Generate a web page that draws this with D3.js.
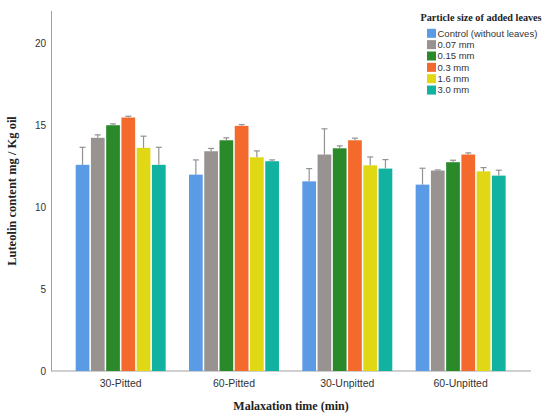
<!DOCTYPE html>
<html>
<head>
<meta charset="utf-8">
<script src="https://cdn.jsdelivr.net/npm/d3@7.9.0/dist/d3.min.js"></script>
<style>
  body { margin: 0; background: #fff; }
  svg { display: block; }
</style>
</head>
<body>
<svg id="chart" width="542" height="414"></svg>
<script>
// categories on the x axis
const groups = ["30-Pitted", "60-Pitted", "30-Unpitted", "60-Unpitted"];
// legend series
const series = ["Control (without leaves)", "0.07 mm", "0.15 mm", "0.3 mm", "1.6 mm", "3.0 mm"];
const colors = ["#5b9be6", "#989391", "#2a8a2a", "#f46a2c", "#e0d814", "#12b2a0"];
// mean values, one array per group (same order as series)
const means = [
    [12.6, 14.25, 15.02, 15.49, 13.64, 12.6],
    [12.0, 13.43, 14.1, 14.98, 13.06, 12.82],
    [11.59, 13.23, 13.61, 14.1, 12.57, 12.37],
    [11.39, 12.25, 12.76, 13.23, 12.2, 11.94]
];
// top of the error bar
const upper = [
    [13.67, 14.43, 15.1, 15.57, 14.35, 13.67],
    [12.9, 13.6, 14.25, 15.06, 13.45, 12.9],
    [12.37, 14.8, 13.76, 14.23, 13.08, 12.92],
    [12.39, 12.29, 12.88, 13.33, 12.43, 12.27]
];
const yTicks = [0, 5, 10, 15, 20];

const svg = d3.select("#chart");
const sansFont = "'Liberation Sans', Arial, sans-serif";
const serifFont = "'Liberation Serif', 'Times New Roman', serif";

const x0 = d3.scaleBand().domain(groups).range([64, 517.3]).paddingInner(0.206).paddingOuter(0.103);
const x1 = d3.scaleBand().domain(series).range([0, x0.bandwidth()]).paddingInner(0.1);
const y = d3.scaleLinear().domain([0, 22]).range([371, 11]);

// axis lines
svg.append("line")
    .attr("x1", 51.5).attr("x2", 51.5).attr("y1", y(22)).attr("y2", y(0))
    .attr("stroke", "#a0a0a0").attr("stroke-width", 1);
svg.append("line")
    .attr("x1", 51).attr("x2", 531).attr("y1", y(0)).attr("y2", y(0))
    .attr("stroke", "#a0a0a0").attr("stroke-width", 1);

// y tick labels
svg.append("g").selectAll("text")
    .data(yTicks)
    .join("text")
    .attr("x", 46)
    .attr("y", d => y(d))
    .attr("dy", "0.35em")
    .attr("text-anchor", "end")
    .attr("font-family", sansFont)
    .attr("font-size", 10)
    .attr("fill", "#333")
    .text(d => d);

// x tick labels
svg.append("g").selectAll("text")
    .data(groups)
    .join("text")
    .attr("x", d => x0(d) + x0.bandwidth() / 2)
    .attr("y", 387)
    .attr("text-anchor", "middle")
    .attr("font-family", sansFont)
    .attr("font-size", 10.5)
    .attr("fill", "#333")
    .text(d => d);

// bars
const groupG = svg.append("g").selectAll("g")
    .data(groups)
    .join("g")
    .attr("transform", d => `translate(${x0(d)},0)`);

groupG.each(function (g, gi) {
    const rows = series.map((s, si) => ({ s, si, v: means[gi][si], hi: upper[gi][si] }));
    const sel = d3.select(this);
    sel.selectAll("rect")
        .data(rows)
        .join("rect")
        .attr("x", d => x1(d.s))
        .attr("y", d => y(d.v))
        .attr("width", x1.bandwidth())
        .attr("height", d => y(0) - y(d.v))
        .attr("fill", d => colors[d.si]);

    // error bars (upper half only, rest hidden by bar)
    const eb = sel.selectAll("g.err")
        .data(rows)
        .join("g")
        .attr("class", "err");
    eb.append("line")
        .attr("x1", d => x1(d.s) + x1.bandwidth() / 2)
        .attr("x2", d => x1(d.s) + x1.bandwidth() / 2)
        .attr("y1", d => y(d.v))
        .attr("y2", d => y(d.hi))
        .attr("stroke", "#929292").attr("stroke-width", 1.2);
    eb.append("line")
        .attr("x1", d => x1(d.s) + x1.bandwidth() / 2 - 3)
        .attr("x2", d => x1(d.s) + x1.bandwidth() / 2 + 3)
        .attr("y1", d => y(d.hi))
        .attr("y2", d => y(d.hi))
        .attr("stroke", "#929292").attr("stroke-width", 1.2);
});

// axis titles
svg.append("text")
    .attr("transform", `translate(16,${y(11)}) rotate(-90)`)
    .attr("text-anchor", "middle")
    .attr("font-family", serifFont)
    .attr("font-weight", "bold")
    .attr("font-size", 12.5)
    .attr("fill", "#222")
    .text("Luteolin content mg / Kg oil");

svg.append("text")
    .attr("x", 291)
    .attr("y", 410)
    .attr("text-anchor", "middle")
    .attr("font-family", serifFont)
    .attr("font-weight", "bold")
    .attr("font-size", 12)
    .attr("fill", "#222")
    .text("Malaxation time (min)");

// legend
const legend = svg.append("g").attr("transform", "translate(427,0)");
legend.append("text")
    .attr("x", -6.5)
    .attr("y", 21)
    .attr("font-family", serifFont)
    .attr("font-weight", "bold")
    .attr("font-size", 10.2)
    .attr("fill", "#222")
    .text("Particle size of added leaves");

const items = legend.selectAll("g.item")
    .data(series)
    .join("g")
    .attr("class", "item")
    .attr("transform", (d, i) => `translate(0,${33.3 + i * 11.35})`);
items.append("rect")
    .attr("x", 0).attr("y", -4.5)
    .attr("width", 9).attr("height", 9)
    .attr("fill", (d, i) => colors[i]);
items.append("text")
    .attr("x", 10.5)
    .attr("y", 0)
    .attr("dy", "0.35em")
    .attr("font-family", sansFont)
    .attr("font-size", 9.5)
    .attr("fill", "#333")
    .text(d => d);
</script>
</body>
</html>
